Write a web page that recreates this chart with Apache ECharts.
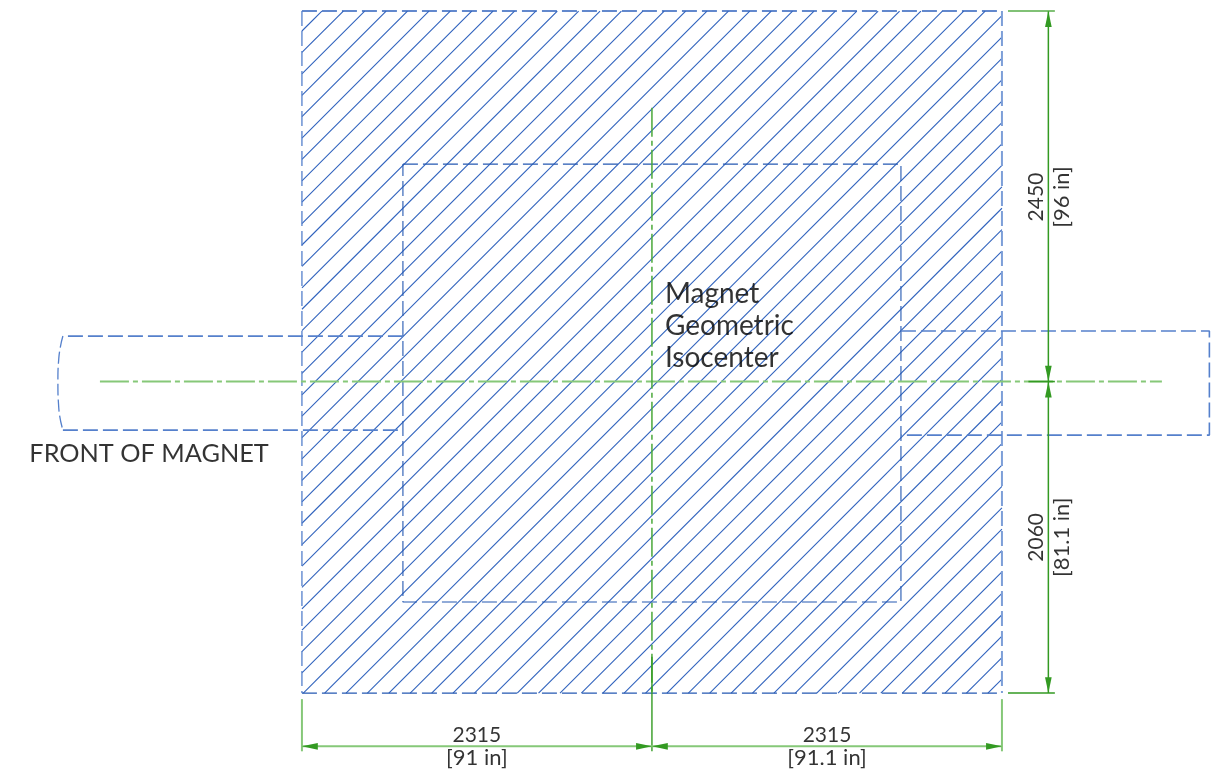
<!DOCTYPE html>
<html>
<head>
<meta charset="utf-8">
<style>html,body{margin:0;padding:0;background:#fff}#chart{width:1218px;height:769px}</style>
<script src="https://cdn.jsdelivr.net/npm/echarts@6/dist/echarts.min.js"></script>
</head>
<body>
<div id="chart"></div>
<script>
// All geometry in millimetres, origin at the magnet isocenter.
const xRange = [-4312, 3744];
const yRange = [-2562, 2523];
const xHalf = 2315, yTop = 2450, yBottom = -2060;
const innerX = 1647, innerTop = 1438, innerBottom = -1458;
const leftPort = [[-1647, 301], [-3896, 301]];
const leftPortBottom = [[-3896, -321], [-1647, -321]];
const leftCap = [[-3896, 301], [-3923, 155], [-3929, 0], [-3923, -178], [-3896, -321]];
const rightPort = [[1647, 334], [3687, 334], [3687, -354], [1647, -354]];
const centerH = [[-3651, 0], [3373, 0]];
const centerV = [[0, 1810], [0, -2060]];
const centerVExt = [[0, -1820], [0, -2445]];
const hatchTopX = [-2183,-2041,-1900,-1758,-1617,-1475,-1334,-1192,-1051,-909,-768,-626,-485,-343,-202,-60,81,223,364,506,647,789,930,1072,1213,1355,1496,1638,1779,1921,2062,2204,2345,2487,2628,2770,2911,3053,3194,3336,3477,3619,3760,3902,4043,4185,4326,4468,4609,4751,4892,5034,5175,5317,5458,5600,5741,5883,6024,6166,6307,6449,6590,6732];
const dimVX = 2622, dimHY = -2412;
const extTop = [[2355, 2450], [2665, 2450]];
const extBottom = [[2355, -2060], [2665, -2060]];
const extCenter = [[2490, 0], [2665, 0]];
const extLeft = [[-2315, -2100], [-2315, -2445]];
const extRight = [[2315, -2100], [2315, -2445]];
// arrow: tip x, tip y, direction from tip to base x, y
const arrows = [
  [dimVX, 2450, 0, -1], [dimVX, 0, 0, 1], [dimVX, 0, 0, -1], [dimVX, -2060, 0, 1],
  [-2315, dimHY, 1, 0], [0, dimHY, -1, 0], [0, dimHY, 1, 0], [2315, dimHY, -1, 0]
];
const arrowLength = 105, arrowHalfWidth = 22;
const labels = [
  {t: 'Magnet', p: [86, 578], size: 28, align: 'left', rot: 0},
  {t: 'Geometric', p: [86, 367], size: 28, align: 'left', rot: 0},
  {t: 'Isocenter', p: [86, 158], size: 28, align: 'left', rot: 0},
  {t: 'FRONT OF MAGNET', p: [-4118, -478], size: 25.3, align: 'left', rot: 0},
  {t: '2315', p: [-1158, -2340], size: 21, align: 'center', rot: 0},
  {t: '[91 in]', p: [-1158, -2486], size: 22, align: 'center', rot: 0},
  {t: '2315', p: [1158, -2340], size: 21, align: 'center', rot: 0},
  {t: '[91.1 in]', p: [1158, -2486], size: 22, align: 'center', rot: 0},
  {t: '2450', p: [2543, 1220], size: 21, align: 'center', rot: 90},
  {t: '[96 in]', p: [2712, 1220], size: 22, align: 'center', rot: 90},
  {t: '2060', p: [2543, -1030], size: 21, align: 'center', rot: 90},
  {t: '[81.1 in]', p: [2712, -1030], size: 22, align: 'center', rot: 90}
];

const BLUE = '#2f62bd', BLUE_SOFT = '#5580cc', BLUE_PALE = '#7d9fd8', BLUE_DARK = '#2458b2';
const GREEN = '#339a22', GREEN_SOFT = '#86c878';
const DASH = [15, 5];

function path(points, color, width, type, smooth) {
  return {
    type: 'line', data: points, showSymbol: false, silent: true, animation: false, clip: false,
    smooth: !!smooth, lineStyle: {color, width, type: type || 'solid', cap: 'butt'}, z: 3
  };
}

function hatchSegment(xt) {
  const t0 = Math.max(0, xt - xHalf);
  const t1 = Math.min(xt + xHalf, yTop - yBottom);
  return {coords: [[xt - t0, yTop - t0], [xt - t1, yTop - t1]]};
}

const series = [
  {
    type: 'lines', coordinateSystem: 'cartesian2d', silent: true, animation: false, z: 2,
    lineStyle: {color: BLUE, width: 1.1, opacity: 1, curveness: 0},
    data: hatchTopX.map(hatchSegment)
  },
  // outer rectangle
  path([[-xHalf, yTop], [xHalf, yTop]], BLUE, 1.4, DASH),
  path([[-xHalf, yTop], [-xHalf, yBottom]], BLUE_SOFT, 1.3, DASH),
  path([[xHalf, yTop], [xHalf, yBottom]], BLUE_PALE, 2, DASH),
  path([[-xHalf, yBottom], [xHalf, yBottom]], BLUE_DARK, 1.2, DASH),
  // inner rectangle
  path([[-innerX, innerTop], [innerX, innerTop], [innerX, innerBottom], [-innerX, innerBottom], [-innerX, innerTop]], BLUE_DARK, 1.1, DASH),
  // bore extensions
  path(leftPort, BLUE_SOFT, 1.8, DASH),
  path(leftPortBottom, BLUE_SOFT, 1.8, DASH),
  path(leftCap, BLUE_SOFT, 1.3, [12, 4], true),
  path(rightPort, BLUE_SOFT, 1.6, DASH),
  // centre lines
  path(centerH, GREEN_SOFT, 2, [29, 4, 5, 4]),
  path(centerV, '#4aa93a', 1.5, [29, 4, 5, 4]),
  path(centerVExt, GREEN, 1.4),
  // dimension lines
  path([[dimVX, yTop], [dimVX, yBottom]], GREEN, 1.5),
  path([[-xHalf, dimHY], [xHalf, dimHY]], GREEN_SOFT, 2),
  path(extTop, '#57ad48', 1.5),
  path(extBottom, GREEN, 1.5),
  path(extCenter, GREEN, 1.6),
  path(extLeft, GREEN_SOFT, 2),
  path(extRight, GREEN_SOFT, 2),
  {
    type: 'custom', coordinateSystem: 'cartesian2d', silent: true, animation: false, z: 5, clip: false,
    data: arrows,
    encode: {x: 0, y: 1},
    renderItem(params, api) {
      const tx = api.value(0), ty = api.value(1), dx = api.value(2), dy = api.value(3);
      const bx = tx + dx * arrowLength, by = ty + dy * arrowLength;
      const pts = [[tx, ty], [bx + dy * arrowHalfWidth, by + dx * arrowHalfWidth], [bx - dy * arrowHalfWidth, by - dx * arrowHalfWidth]].map(p => api.coord(p));
      return {type: 'polygon', shape: {points: pts}, style: {fill: GREEN}};
    }
  },
  {
    type: 'scatter', symbolSize: 0, silent: true, animation: false, z: 6, clip: false,
    data: labels.map(l => ({
      value: l.p,
      label: {
        show: true, formatter: l.t, position: 'inside', color: '#000', fontFamily: 'Lato',
        fontSize: l.size, align: l.align, verticalAlign: 'middle', rotate: l.rot, offset: [0, 0]
      }
    }))
  }
];

const chart = echarts.init(document.getElementById('chart'), null, {renderer: 'canvas'});
chart.setOption({
  backgroundColor: '#ffffff',
  animation: false,
  grid: {left: 0, right: 0, top: 0, bottom: 0},
  xAxis: {type: 'value', min: xRange[0], max: xRange[1], show: false},
  yAxis: {type: 'value', min: yRange[0], max: yRange[1], show: false},
  series
});
</script>
</body>
</html>
